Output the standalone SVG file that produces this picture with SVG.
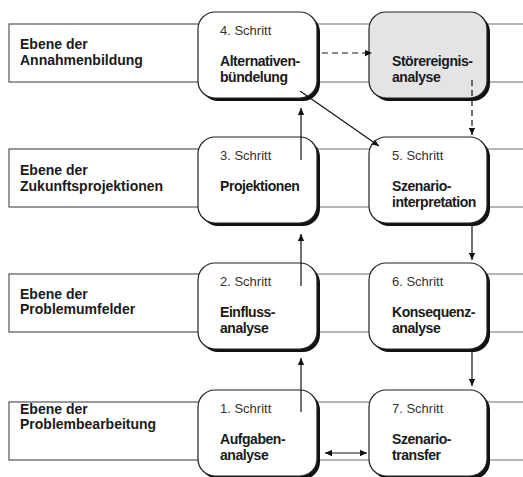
<svg xmlns="http://www.w3.org/2000/svg" width="523" height="477" viewBox="0 0 523 477">
<defs>
<marker id="ah" viewBox="0 0 10 10" refX="10" refY="5" markerWidth="7" markerHeight="7" orient="auto-start-reverse" markerUnits="userSpaceOnUse"><path d="M0,0.5 L10,5 L0,9.5 Z" fill="#111"/></marker>
<style>
.band{stroke:#6e6e6e;stroke-width:1.2;fill:none}
.lbox{fill:#fff;stroke:#555;stroke-width:1.2}
.shadow{fill:#111}
.node{fill:#fff;stroke:#222;stroke-width:1.2}
.gray{fill:#e4e4e4}
.lbl{font-family:"Liberation Sans",Arial,sans-serif;font-size:14px;font-weight:bold;fill:#1a1a1a}
.step{font-family:"Liberation Sans",Arial,sans-serif;font-size:13px;fill:#333}
.ttl{font-family:"Liberation Sans",Arial,sans-serif;font-size:14px;font-weight:bold;fill:#1a1a1a;letter-spacing:-0.45px}
.con{stroke:#111;stroke-width:1.2;fill:none}
.dash{stroke-dasharray:6,4}
</style>
</defs>
<g id="bands">
<rect class="lbox" x="9" y="24" width="200" height="58"/>
<line class="band" x1="209" y1="24" x2="523" y2="24"/><line class="band" x1="209" y1="82" x2="523" y2="82"/>
<rect class="lbox" x="9" y="149" width="200" height="58"/>
<line class="band" x1="209" y1="149" x2="523" y2="149"/><line class="band" x1="209" y1="207" x2="523" y2="207"/>
<rect class="lbox" x="9" y="274" width="200" height="58"/>
<line class="band" x1="209" y1="274" x2="523" y2="274"/><line class="band" x1="209" y1="332" x2="523" y2="332"/>
<rect class="lbox" x="9" y="402" width="200" height="58"/>
<line class="band" x1="209" y1="402" x2="523" y2="402"/><line class="band" x1="209" y1="460" x2="523" y2="460"/>
</g>
<g id="level1"><text class="lbl" x="20" y="49">Ebene der</text><text class="lbl" x="20" y="65">Annahmenbildung</text></g>
<g id="level2"><text class="lbl" x="20" y="175">Ebene der</text><text class="lbl" x="20" y="191">Zukunftsprojektionen</text></g>
<g id="level3"><text class="lbl" x="20" y="299">Ebene der</text><text class="lbl" x="20" y="314">Problemumfelder</text></g>
<g id="level4"><text class="lbl" x="20" y="414">Ebene der</text><text class="lbl" x="20" y="429">Problembearbeitung</text></g>

<g id="step4">
<rect class="shadow" x="201" y="15" width="119" height="86" rx="17"/>
<rect class="node" x="198" y="12" width="119" height="86" rx="17"/>
<text class="step" x="220" y="35">4. Schritt</text>
<text class="ttl" x="220" y="66">Alternativen-</text><text class="ttl" x="220" y="82">bündelung</text>
</g>
<g id="stoer">
<rect class="shadow" x="372" y="15" width="118" height="86" rx="17"/>
<rect class="node gray" x="369" y="12" width="118" height="86" rx="17"/>
<text class="ttl" x="392" y="66">Störereignis-</text><text class="ttl" x="392" y="82">analyse</text>
</g>
<g id="step3">
<rect class="shadow" x="201" y="140" width="119" height="86" rx="17"/>
<rect class="node" x="198" y="137" width="119" height="86" rx="17"/>
<text class="step" x="220" y="160">3. Schritt</text>
<text class="ttl" x="220" y="191">Projektionen</text>
</g>
<g id="step5">
<rect class="shadow" x="372" y="140" width="118" height="86" rx="17"/>
<rect class="node" x="369" y="137" width="118" height="86" rx="17"/>
<text class="step" x="392" y="160">5. Schritt</text>
<text class="ttl" x="392" y="191">Szenario-</text><text class="ttl" x="392" y="207">interpretation</text>
</g>
<g id="step2">
<rect class="shadow" x="201" y="266" width="119" height="86" rx="17"/>
<rect class="node" x="198" y="263" width="119" height="86" rx="17"/>
<text class="step" x="220" y="286">2. Schritt</text>
<text class="ttl" x="220" y="317">Einfluss-</text><text class="ttl" x="220" y="333">analyse</text>
</g>
<g id="step6">
<rect class="shadow" x="372" y="266" width="118" height="86" rx="17"/>
<rect class="node" x="369" y="263" width="118" height="86" rx="17"/>
<text class="step" x="392" y="286">6. Schritt</text>
<text class="ttl" x="392" y="317">Konsequenz-</text><text class="ttl" x="392" y="333">analyse</text>
</g>
<g id="step1">
<rect class="shadow" x="201" y="393" width="119" height="86" rx="17"/>
<rect class="node" x="198" y="390" width="119" height="86" rx="17"/>
<text class="step" x="220" y="413">1. Schritt</text>
<text class="ttl" x="220" y="444">Aufgaben-</text><text class="ttl" x="220" y="460">analyse</text>
</g>
<g id="step7">
<rect class="shadow" x="372" y="393" width="118" height="86" rx="17"/>
<rect class="node" x="369" y="390" width="118" height="86" rx="17"/>
<text class="step" x="392" y="413">7. Schritt</text>
<text class="ttl" x="392" y="444">Szenario-</text><text class="ttl" x="392" y="460">transfer</text>
</g>

<g id="connectors">
<line class="con dash" x1="322" y1="53" x2="372" y2="53" marker-end="url(#ah)"/>
<line class="con dash" x1="472" y1="80" x2="472" y2="135" marker-end="url(#ah)"/>
<line class="con" x1="300" y1="91" x2="379" y2="146" marker-end="url(#ah)"/>
<line class="con" x1="301" y1="160" x2="301" y2="108" marker-end="url(#ah)"/>
<line class="con" x1="301" y1="286" x2="301" y2="234" marker-end="url(#ah)"/>
<line class="con" x1="301" y1="412" x2="301" y2="358" marker-end="url(#ah)"/>
<line class="con" x1="472" y1="226" x2="472" y2="260" marker-end="url(#ah)"/>
<line class="con" x1="472" y1="352" x2="472" y2="386" marker-end="url(#ah)"/>
<line class="con" x1="325" y1="453" x2="367" y2="453" marker-start="url(#ah)" marker-end="url(#ah)"/>
</g>
</svg>
